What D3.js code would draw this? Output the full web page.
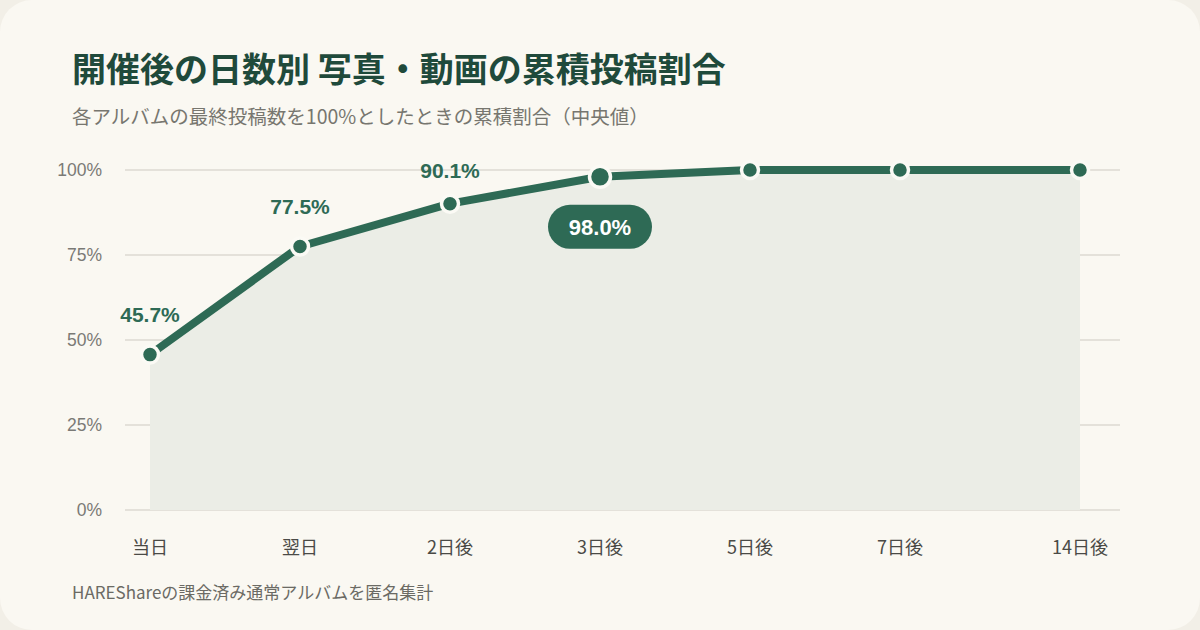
<!DOCTYPE html>
<html><head><meta charset="utf-8">
<script src="https://cdn.jsdelivr.net/npm/d3@7"></script>
<style>
html,body{margin:0;padding:0;background:#f2efe7;}
svg{display:block;}
</style></head>
<body>
<svg id="c" width="1200" height="630"></svg>
<script>
const categories = ["当日","翌日","2日後","3日後","5日後","7日後","14日後"];
const values = [45.7, 77.5, 90.1, 98.0, 100, 100, 100];
const labeled = ["45.7%","77.5%","90.1%",null,null,null,null];
const highlightIndex = 3;
const highlightLabel = "98.0%";
const yTicks = [0,25,50,75,100];
const yTickLabels = ["0%","25%","50%","75%","100%"];
const title = "開催後の日数別 写真・動画の累積投稿割合";
const subtitle = "各アルバムの最終投稿数を100%としたときの累積割合（中央値）";
const footnote = "HAREShareの課金済み通常アルバムを匿名集計";

const JP = "'Noto Sans CJK JP','Noto Sans',sans-serif";
const NUM = "'Liberation Sans','Noto Sans CJK JP',sans-serif";
const green = "#2e6a55";

const svg = d3.select("#c");
svg.append("rect").attr("x",0).attr("y",0).attr("width",1200).attr("height",630)
  .attr("rx",32).attr("fill","#faf8f2");

// x scale: piecewise so last gap is wider
const xIdx = d3.scaleLinear().domain([0,5,6]).range([150,900,1080]);
const x = c => xIdx(categories.indexOf(c));
const y = d3.scaleLinear().domain([0,100]).range([510,170]);

// gridlines
const g = svg.append("g");
g.selectAll("line.grid").data(yTicks).join("line")
  .attr("x1",125).attr("x2",1120)
  .attr("y1",d=>y(d)).attr("y2",d=>y(d))
  .attr("stroke","#dcdad2").attr("stroke-width",1.5);

g.selectAll("text.yt").data(yTicks).join("text")
  .attr("x",102).attr("y",d=>y(d)).attr("dy","0.35em")
  .attr("text-anchor","end").attr("font-family",NUM).attr("font-size",17.5)
  .attr("fill","#7a7a76").text((d,i)=>yTickLabels[i]);

const data = categories.map((c,i)=>({c, v: values[i], i}));

// area
const area = d3.area().x(d=>x(d.c)).y0(y(0)).y1(d=>y(d.v));
svg.append("path").datum(data).attr("d",area).attr("fill","#ebede6");

// line
const line = d3.line().x(d=>x(d.c)).y(d=>y(d.v));
svg.append("path").datum(data).attr("d",line).attr("fill","none")
  .attr("stroke",green).attr("stroke-width",8).attr("stroke-linejoin","round").attr("stroke-linecap","round");

// dots
svg.selectAll("circle.pt").data(data).join("circle")
  .attr("cx",d=>x(d.c)).attr("cy",d=>y(d.v))
  .attr("r",d=>d.i===highlightIndex?10.5:8.5)
  .attr("fill",green).attr("stroke","#fbfaf5").attr("stroke-width",3.5);

// value labels (kept below the plot top)
svg.selectAll("text.vl").data(data.filter(d=>labeled[d.i])).join("text")
  .attr("x",d=>x(d.c)).attr("y",d=>Math.max(y(d.v)-40, y(100)+1)).attr("dy","0.35em")
  .attr("text-anchor","middle").attr("font-family",NUM).attr("font-weight","bold")
  .attr("font-size",21).attr("fill",green).text(d=>labeled[d.i]);

// highlight pill
const hd = data[highlightIndex];
const px = x(hd.c), py = y(hd.v)+50;
svg.append("rect").attr("x",px-52).attr("y",py-22).attr("width",104).attr("height",44)
  .attr("rx",22).attr("fill",green);
svg.append("text").attr("x",px).attr("y",py).attr("dy","0.36em")
  .attr("text-anchor","middle").attr("font-family",NUM).attr("font-weight","bold")
  .attr("font-size",22).attr("fill","#ffffff").text(highlightLabel);

// x labels
svg.selectAll("text.xl").data(categories).join("text")
  .attr("x",d=>x(d)).attr("y",548).attr("dy","0.35em")
  .attr("text-anchor","middle").attr("font-family",JP).attr("font-size",18)
  .attr("fill","#4a4a46").text(d=>d);

// titles
svg.append("text").attr("x",72).attr("y",82).attr("font-family",JP).attr("font-weight","bold")
  .attr("font-size",34).attr("fill","#1f4a3b").text(title);
svg.append("text").attr("x",72).attr("y",124).attr("font-family",JP)
  .attr("font-size",19.5).attr("fill","#77766f").text(subtitle);
svg.append("text").attr("x",72).attr("y",599).attr("font-family",JP)
  .attr("font-size",17).attr("fill","#6b6a64").text(footnote);
</script>
</body></html>
